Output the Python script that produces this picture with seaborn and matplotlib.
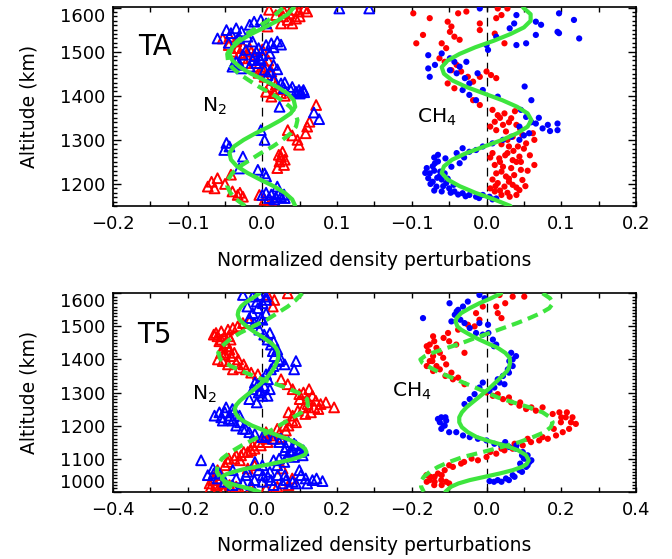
import numpy as np
import matplotlib
matplotlib.use("Agg")
import matplotlib.pyplot as plt
from matplotlib.ticker import MultipleLocator
import seaborn as sns

# ---------------- data (perturbation, altitude km) ----------------
# TA flyby, N2 (triangles)
ta_n2_blue = [(0.103,1598),(0.143,1598),
    (-0.060,1530),(-0.048,1549),(-0.042,1542),(-0.035,1553),(-0.028,1546),(-0.017,1561),(-0.011,1568),
    (-0.002,1572),(0.005,1564),(-0.020,1534),(-0.031,1530),(-0.013,1523),(0.005,1515),(0.012,1519),
    (0.020,1523),(-0.022,1504),(-0.008,1500),(-0.004,1485),(-0.013,1481),(-0.026,1493),(-0.035,1477),
    (-0.040,1466),(-0.028,1462),(-0.017,1466),(-0.008,1474),(-0.002,1481),(0.003,1459),(0.007,1447),
    (0.016,1436),(0.025,1428),(0.029,1417),(0.038,1413),(0.045,1409),(0.052,1408),(0.049,1413),
    (0.056,1408),(0.000,1492),(0.010,1496),(-0.005,1508),(0.015,1470),(0.020,1460),(-0.045,1520),
    (0.030,1430),(0.040,1420),(0.050,1405),(0.055,1413),(0.010,1455),(-0.010,1490),(0.015,1510),
    (0.025,1516),(-0.030,1470),(-0.038,1472),
    (0.023,1375),(0.069,1362),(0.076,1347),
    (-0.002,1322),(0.003,1300),(-0.048,1293),(-0.044,1285),(-0.051,1277),(-0.026,1262),(-0.031,1235),
    (-0.006,1232),(0.003,1224),(0.005,1217),(0.020,1194),(0.005,1180),(0.012,1176),(0.018,1170),
    (0.025,1172),(0.029,1176),(0.009,1168),(0.016,1165),(0.022,1178),(0.030,1168),(0.000,1175)]
ta_n2_red = [(0.009,1595),(0.018,1583),(0.029,1591),(0.036,1587),(0.043,1595),(0.049,1591),(0.056,1598),
    (0.060,1591),(0.034,1572),(0.025,1564),(0.040,1564),(0.007,1557),(0.028,1580),(0.050,1580),(0.045,1575),
    (-0.053,1530),(-0.044,1534),(-0.035,1523),(-0.026,1511),(-0.033,1508),(-0.017,1508),(-0.040,1500),
    (-0.011,1493),(-0.026,1485),(-0.022,1474),(-0.006,1466),(0.000,1459),(0.005,1466),(0.012,1455),
    (0.003,1443),(0.014,1436),(0.018,1425),(0.009,1421),(0.005,1409),(0.016,1406),(0.012,1398),(0.025,1406),
    (-0.015,1500),(0.000,1505),(0.008,1480),(-0.005,1452),(0.020,1415),(0.030,1400),(-0.030,1497),(-0.045,1515),
    (0.072,1379),(0.063,1341),(0.058,1315),(0.047,1300),(0.049,1289),(0.034,1322),(0.027,1273),
    (0.025,1262),(0.023,1251),(0.029,1243),(0.020,1236),(0.030,1255),(0.022,1266),(0.060,1330),(0.040,1310),
    (-0.068,1205),(-0.060,1213),(-0.073,1194),(-0.064,1190),(-0.042,1221),(-0.040,1183),(-0.033,1175),
    (-0.026,1171),(-0.004,1175),(0.003,1164),(0.012,1160),(-0.050,1200),(-0.030,1180)]
# TA flyby, CH4 (dots)
ta_ch4_blue = [(-0.009,1598),(0.040,1583),(0.037,1564),(0.031,1553),(0.066,1568),(0.073,1561),(0.097,1587),
    (0.117,1572),(0.124,1530),(0.095,1545),(0.097,1542),(0.066,1538),(0.053,1519),(0.040,1515),(0.013,1534),
    (0.000,1515),(0.002,1504),
    (-0.078,1492),(-0.069,1470),(-0.078,1462),(-0.076,1443),(-0.060,1496),(-0.049,1485),(-0.043,1477),
    (-0.036,1466),(-0.027,1477),(-0.049,1458),(-0.040,1451),(-0.029,1440),(-0.023,1428),(-0.012,1451),
    (-0.032,1413),(-0.023,1402),(-0.014,1390),(-0.005,1413),(0.015,1398),
    (0.051,1421),(0.060,1390),(0.046,1368),(0.053,1352),(0.066,1337),(0.075,1326),(0.082,1334),(0.095,1337),
    (0.095,1322),(0.044,1330),(0.057,1315),(0.044,1300),(0.033,1307),(0.022,1300),(0.008,1292),(-0.005,1285),
    (-0.014,1277),(-0.023,1273),(-0.032,1281),(-0.040,1270),(-0.065,1266),
    (0.070,1350),(0.060,1340),(0.085,1320),(0.050,1310),
    (-0.080,1236),(-0.076,1224),(-0.069,1247),(-0.063,1217),(-0.072,1205),(-0.067,1194),(-0.060,1183),
    (-0.054,1202),(-0.056,1224),(-0.047,1239),(-0.036,1247),(-0.043,1183),(-0.032,1179),(-0.023,1175),
    (-0.014,1171),(-0.005,1175),(0.004,1171),(0.013,1167),(-0.078,1213),(-0.065,1251),(-0.070,1230),
    (-0.060,1210),(-0.050,1190),(-0.075,1200),
    (-0.072,1240),(-0.062,1228),(-0.058,1195),(-0.070,1185),(-0.048,1180),(-0.038,1176),(-0.028,1172),
    (-0.082,1225),(-0.066,1214),(-0.052,1212),(-0.044,1198),(-0.010,1168),(0.008,1165),(-0.055,1258),
    (-0.070,1260),(-0.030,1260)]
ta_ch4_red = [(-0.098,1587),(-0.076,1576),(-0.052,1568),(-0.047,1557),(-0.049,1545),(-0.038,1587),(-0.027,1591),
    (-0.009,1564),(0.015,1598),(0.020,1583),(0.028,1598),(0.013,1576),(-0.009,1549),(0.011,1541),(-0.043,1534),
    (-0.036,1527),(-0.085,1538),(-0.094,1519),(-0.060,1519),(-0.054,1508),(0.024,1519),
    (-0.063,1485),(-0.056,1477),(-0.047,1458),(-0.040,1470),(-0.034,1455),(-0.025,1443),(-0.018,1432),
    (-0.009,1443),(0.000,1455),(0.006,1447),(-0.052,1428),(-0.043,1417),(-0.018,1390),(-0.009,1379),(0.013,1440),
    (0.008,1368),(0.015,1356),(0.024,1360),(0.033,1349),(0.011,1341),(0.022,1334),(0.013,1322),(0.026,1319),
    (0.040,1334),(0.035,1307),(0.048,1311),(0.062,1315),(0.064,1300),(0.053,1292),(0.042,1285),
    (0.008,1270),(0.017,1258),(0.028,1270),(0.035,1254),(0.044,1262),(0.011,1243),(0.022,1239),(0.033,1236),
    (0.046,1232),(0.064,1243),(0.013,1224),(0.026,1217),(0.037,1220),(0.048,1209),(0.015,1202),(0.024,1194),
    (0.035,1198),(0.044,1186),(0.011,1183),(0.020,1175),(0.031,1171),(0.040,1175),(0.005,1190),(0.030,1205),
    (0.018,1250),(0.050,1280),(0.030,1285),
    (0.005,1260),(0.025,1265),(0.040,1250),(0.055,1230),(0.020,1228),(0.008,1210),(0.030,1212),(0.052,1195),
    (0.018,1185),(0.040,1192),(0.028,1180),(0.012,1195),(0.046,1250),(0.036,1275),(0.058,1265),(0.020,1290),
    (0.030,1340),(0.045,1325),(0.018,1350),(0.005,1330),(0.038,1365),(0.028,1300)]

# T5 flyby, N2 (triangles)
t5_n2_blue = [(-0.052,1595),(-0.026,1590),(-0.008,1595),(0.010,1590),(0.001,1570),(-0.012,1555),(-0.026,1540),
    (-0.035,1525),(-0.021,1510),(-0.004,1525),(0.010,1540),(-0.008,1490),(0.005,1475),(0.014,1460),(0.023,1445),
    (0.028,1425),(0.032,1410),(0.045,1395),(0.090,1395),(0.085,1370),(0.023,1370),(0.010,1355),(0.001,1340),
    (-0.012,1325),(-0.026,1310),(-0.004,1305),(0.014,1290),(-0.035,1280),
    (0.040,1430),(0.050,1400),(0.030,1380),(0.060,1385),(0.015,1340),(-0.010,1300),(0.020,1310),(-0.020,1330),
    (0.005,1320),(0.000,1290),(-0.015,1270),(0.000,1520),(-0.015,1575),(0.010,1580),(-0.040,1560),(0.020,1480),
    (0.030,1455),
    (-0.128,1230),(-0.115,1240),(-0.097,1255),(-0.088,1230),(-0.079,1215),(-0.106,1215),(-0.070,1200),
    (-0.052,1190),(-0.035,1180),(-0.061,1230),(-0.075,1245),(-0.100,1240),(-0.090,1220),(-0.110,1225),
    (-0.080,1250),(-0.060,1210),(-0.045,1190),
    (0.010,1170),(0.028,1160),(0.045,1150),(0.063,1135),(0.081,1125),(0.099,1120),(0.068,1110),(0.045,1100),
    (0.085,1145),(0.108,1110),(0.059,1090),(0.050,1160),(0.070,1150),(0.090,1140),(0.100,1130),(0.110,1125),
    (0.075,1120),(0.060,1125),(0.085,1105),(0.030,1095),(0.040,1080),(0.000,1165),(-0.020,1175),
    (-0.164,1095),(-0.132,1070),(-0.146,1050),(-0.115,1055),(-0.079,1065),(-0.070,1040),(-0.044,1050),
    (-0.021,1035),(0.001,1050),(0.023,1035),(0.041,1050),(0.063,1035),(0.099,1065),(0.103,1050),(0.116,1040),
    (0.134,1035),(0.161,1032),(0.081,1030),(0.054,1025),(-0.052,1025),(0.020,1060),(-0.010,1065),
    (-0.100,1030),(-0.120,1040),(-0.080,1020),(-0.030,1020),(0.000,1030),(0.030,1020),(0.060,1050),
    (0.090,1025),(0.120,1025),(0.145,1040),(0.015,1045),(-0.040,1060),(-0.130,1055),(0.000,1080),(-0.020,1090)]
t5_n2_red = [(0.032,1580),(0.068,1600),(0.014,1595),(0.028,1560),
    (-0.035,1515),(-0.052,1510),(-0.066,1500),(-0.079,1495),(-0.092,1490),(-0.110,1485),(-0.124,1480),
    (-0.101,1470),(-0.115,1455),(-0.097,1450),(-0.106,1435),(-0.088,1430),(-0.101,1415),(-0.084,1410),
    (-0.119,1400),(-0.070,1390),(-0.092,1385),(-0.061,1375),(-0.044,1370),(-0.030,1360),(-0.012,1355),
    (-0.106,1395),(-0.079,1370),(-0.090,1470),(-0.110,1460),(-0.085,1460),(-0.095,1440),(-0.075,1420),
    (-0.110,1420),(-0.065,1400),(-0.050,1385),(-0.120,1470),(-0.130,1475),
    (0.050,1340),(0.068,1325),(0.081,1310),(0.099,1295),(0.125,1310),(0.134,1290),(0.143,1275),(0.121,1265),
    (0.139,1255),(0.156,1265),(0.170,1270),(0.192,1255),(0.130,1240),(0.081,1230),(0.090,1210),(0.059,1200),
    (0.110,1300),(0.120,1280),(0.150,1250),(0.110,1255),(0.100,1280),(0.115,1235),(0.095,1245),(0.070,1240),
    (0.080,1215),(0.070,1200),(0.040,1190),(0.050,1165),(0.025,1170),(0.010,1160),(-0.010,1150),
    (0.063,1185),(0.045,1175),(0.032,1160),(0.014,1150),(-0.004,1140),(-0.021,1130),(-0.039,1120),
    (-0.057,1110),(-0.075,1100),(-0.092,1090),(0.010,1180),(-0.026,1140),
    (-0.030,1125),(-0.050,1120),(-0.070,1110),(-0.060,1095),(-0.090,1100),(-0.100,1080),(-0.120,1065),
    (-0.110,1050),
    (-0.132,1035),(-0.141,1025),(-0.124,1020),(-0.106,1025),(-0.088,1020),(-0.070,1015),(0.010,1010),
    (0.054,1070),(-0.021,1080),(-0.039,1070),(-0.140,1010),(-0.120,1005),(-0.100,1010),(-0.060,1005),
    (-0.030,1010),(0.040,1015),(0.070,1020),(0.080,1040)]
# T5 flyby, CH4 (dots)
t5_ch4_blue = [(-0.019,1595),(-0.005,1585),(-0.099,1570),(-0.076,1550),(-0.085,1535),(-0.094,1515),(-0.063,1560),
    (-0.170,1525),(-0.059,1510),(-0.045,1495),(-0.028,1480),(-0.010,1475),(0.017,1460),(0.026,1445),
    (-0.019,1510),(0.004,1505),(-0.070,1520),(-0.080,1545),(-0.050,1575),(0.005,1480),(0.020,1440),
    (0.066,1420),(0.079,1410),(0.070,1380),(0.057,1370),(0.061,1395),(0.044,1350),(0.030,1340),(0.048,1325),
    (0.021,1315),(0.008,1305),(-0.010,1330),(-0.019,1315),(-0.032,1295),(-0.045,1280),(-0.059,1265),
    (0.070,1400),(0.060,1360),(0.035,1330),
    (-0.121,1225),(-0.125,1210),(-0.112,1200),(-0.121,1190),(-0.108,1215),(-0.081,1180),(-0.063,1170),
    (-0.045,1165),(-0.023,1160),(0.000,1155),(0.021,1145),(0.039,1140),(0.061,1135),(0.079,1130),(0.097,1120),
    (0.110,1110),(0.115,1090),(0.106,1075),(0.088,1065),(0.070,1050),(0.052,1040),(0.030,1035),(0.008,1032),
    (0.100,1100),(0.090,1085),(-0.115,1200),(-0.130,1220),(-0.110,1225),(-0.100,1180),(0.095,1110),
    (0.105,1100),(0.120,1095),(0.110,1080),(0.095,1060),(0.075,1045),(0.060,1035),(0.040,1030),(0.020,1030),
    (0.050,1150),(0.080,1140)]
t5_ch4_red = [(0.035,1595),(0.070,1590),(0.101,1590),(0.026,1560),(0.030,1540),(-0.028,1540),(-0.019,1520),
    (-0.032,1500),(-0.076,1490),(-0.103,1480),(-0.143,1470),(-0.152,1445),(-0.134,1435),(-0.156,1425),
    (-0.143,1410),(-0.152,1395),(-0.134,1380),(-0.143,1365),(-0.116,1405),(-0.108,1385),(-0.094,1360),
    (-0.076,1345),(-0.059,1325),(-0.081,1445),(-0.059,1420),(0.050,1570),(0.040,1525),(-0.010,1560),
    (-0.050,1505),(-0.140,1455),(-0.160,1440),(-0.125,1420),(-0.145,1395),(-0.160,1380),(-0.125,1370),
    (-0.110,1350),(-0.090,1340),(-0.100,1455),(-0.115,1465),
    (0.017,1290),(0.044,1280),(0.066,1270),(0.088,1260),(0.106,1250),(0.132,1245),(0.177,1235),(0.195,1240),
    (0.212,1225),(0.226,1210),(0.239,1205),(0.221,1190),(0.204,1180),(0.199,1210),(0.186,1170),(0.164,1160),
    (0.141,1155),(0.119,1150),(0.097,1140),(0.070,1130),(0.048,1125),(0.026,1115),(0.000,1105),(-0.023,1095),
    (0.000,1300),(0.030,1295),(0.060,1285),(0.090,1270),(0.120,1255),(0.150,1255),(0.200,1225),(0.215,1240),
    (0.230,1225),(0.180,1190),(0.150,1165),(0.110,1160),(0.075,1145),(0.040,1130),(0.010,1120),
    (-0.040,1100),(-0.060,1090),(-0.100,1080),
    (-0.068,1085),(-0.090,1075),(-0.112,1065),(-0.130,1055),(-0.139,1045),(-0.152,1035),(-0.139,1030),
    (-0.121,1035),(-0.108,1030),(-0.161,1050),(-0.120,1050),(-0.150,1045),(-0.140,1020),(-0.120,1020),
    (-0.100,1025),(-0.160,1030)]

# fitted wave curves
ta_curve_alt = [1150,1165,1180,1195,1210,1225,1240,1255,1270,1285,1300,1315,1330,1345,1360,1375,
                1390,1405,1420,1435,1450,1465,1480,1495,1510,1525,1540,1555,1570,1585,1600]
ta_n2_fit = [0.044,0.040,0.030,0.015,-0.003,-0.020,-0.034,-0.042,-0.044,-0.038,-0.025,-0.009,0.009,0.025,
             0.038,0.044,0.042,0.034,0.020,0.003,-0.015,-0.030,-0.040,-0.044,-0.040,-0.030,-0.015,0.003,
             0.020,0.034,0.042]
ta_n2_fit2 = [-0.023,-0.035,-0.043,-0.047,-0.046,-0.040,-0.030,-0.016,-0.002,0.014,0.027,0.038,0.045,0.047,
              0.044,0.037,0.026,0.012,-0.004,-0.018,-0.031,-0.041,-0.046,-0.047,-0.042,-0.033,-0.021,-0.007,
              0.007,0.018,0.028]
ta_ch4_fit = [0.032,0.010,-0.015,-0.036,-0.052,-0.060,-0.057,-0.046,-0.027,-0.003,0.021,0.041,0.055,0.060,
              0.055,0.041,0.021,-0.003,-0.027,-0.046,-0.057,-0.060,-0.052,-0.036,-0.015,0.010,0.032,0.050,
              0.059,0.059,0.049]

t5_n2_fit_alt = [1600,1590,1580,1570,1560,1547,1535,1522,1510,1495,1480,1465,1450,1437,1425,1410,1395,1380,
                 1365,1350,1335,1320,1305,1290,1275,1262,1250,1237,1225,1212,1200,1190,1180,1170,1160,1150,
                 1140,1130,1120,1112,1105,1097,1090,1082,1075,1068,1060,1052,1045,1038,1030,1022,1015,1008,1000]
t5_n2_fit = [-0.008,-0.020,-0.035,-0.047,-0.057,-0.064,-0.066,-0.062,-0.052,-0.036,-0.017,0.004,0.023,0.035,
             0.041,0.043,0.040,0.034,0.026,0.016,0.004,-0.011,-0.027,-0.044,-0.060,-0.070,-0.074,-0.072,
             -0.064,-0.048,-0.028,-0.006,0.018,0.042,0.066,0.086,0.103,0.114,0.118,0.114,0.100,0.077,0.048,
             0.015,-0.018,-0.050,-0.077,-0.098,-0.108,-0.108,-0.098,-0.078,-0.055,-0.030,-0.008]
t5_n2_fit2_alt = [1600,1580,1560,1540,1520,1500,1480,1460,1440,1420,1400,1380,1360,1340,1320,1300,1280,1260,
                  1240,1220,1200,1180,1160,1140,1120,1100,1080,1060,1040,1020,1000]
t5_n2_fit2 = [0.107,0.090,0.068,0.040,0.012,-0.025,-0.060,-0.088,-0.108,-0.118,-0.112,-0.085,-0.045,0.000,
              0.050,0.095,0.120,0.122,0.105,0.075,0.045,0.015,-0.020,-0.055,-0.085,-0.108,-0.120,-0.122,
              -0.112,-0.095,-0.070]
t5_ch4_fit_alt = [1600,1585,1570,1555,1540,1525,1515,1500,1490,1475,1460,1447,1435,1420,1405,1390,1375,1365,
                  1350,1330,1310,1290,1270,1255,1240,1225,1210,1195,1180,1165,1152,1140,1125,1110,1095,1083,
                  1075,1065,1055,1045,1035,1025,1015,1000]
t5_ch4_fit = [0.039,0.012,-0.019,-0.045,-0.068,-0.080,-0.083,-0.078,-0.068,-0.045,-0.019,0.006,0.030,0.050,
              0.062,0.063,0.060,0.055,0.042,0.024,0.005,-0.016,-0.038,-0.054,-0.066,-0.073,-0.073,-0.066,
              -0.050,-0.026,0.010,0.048,0.085,0.106,0.113,0.107,0.095,0.070,0.035,-0.005,-0.045,-0.075,
              -0.095,-0.110]
t5_ch4_fit2_alt = [1600,1585,1570,1555,1540,1525,1510,1495,1480,1465,1450,1435,1420,1410,1400,1390,1375,1360,
                   1345,1330,1315,1300,1285,1270,1255,1240,1225,1210,1195,1180,1165,1150,1135,1120,1105,1090,
                   1075,1060,1045,1030,1015,1000]
t5_ch4_fit2 = [0.150,0.170,0.178,0.168,0.145,0.115,0.082,0.045,0.008,-0.030,-0.065,-0.105,-0.145,-0.165,
               -0.177,-0.172,-0.150,-0.125,-0.094,-0.062,-0.030,0.000,0.030,0.072,0.115,0.150,0.170,0.177,
               0.172,0.155,0.124,0.088,0.040,-0.010,-0.063,-0.100,-0.130,-0.152,-0.168,-0.176,-0.175,-0.168]

ta_tick_labels = ["\u22120.2", "\u22120.1", "0.0", "0.1", "\u22120.1", "0.0", "0.1", "0.2"]
t5_tick_labels = ["\u22120.4", "\u22120.2", "0.0", "0.2", "\u22120.2", "0.0", "0.2", "0.4"]

# ---------------- style ----------------
sns.set_style("ticks")
plt.rcParams["font.family"] = ["DejaVu Sans"]
for key in ("text.color", "axes.labelcolor", "xtick.color", "ytick.color", "axes.edgecolor"):
    plt.rcParams[key] = "black"
plt.rcParams["axes.linewidth"] = 1.2

BLUE = "#0000ff"
RED = "#ff0000"
GREEN = "#3ee53e"

fig = plt.figure(figsize=(6.72, 5.59), dpi=100)
ax1 = fig.add_axes([0.168, 0.6315, 0.7784, 0.3565])
ax2 = fig.add_axes([0.168, 0.1204, 0.7784, 0.3549])


def draw_points(ax, pts, offset, color, kind):
    arr = np.array(pts, dtype=float)
    x = arr[:, 0] + offset
    y = arr[:, 1]
    if kind == "tri":
        sns.scatterplot(x=x, y=y, ax=ax, marker="^", s=50, facecolor="none",
                        edgecolor=color, linewidth=1.4, zorder=3)
    else:
        sns.scatterplot(x=x, y=y, ax=ax, marker="o", s=20, color=color,
                        edgecolor="none", linewidth=0, zorder=3)


def draw_curve(ax, xs, alts, offset, dashed=False):
    x = np.array(xs) + offset
    kw = dict(color=GREEN, lw=3.0, zorder=4)
    if dashed:
        kw["linestyle"] = (0, (2.6, 1.5))
    sns.lineplot(x=x, y=np.array(alts), ax=ax, sort=False, estimator=None, **kw)


def style_axis(ax, xlim, ylim, xstep, xlabels, ytks, ch4_offset):
    ax.axvline(0, color="black", lw=0.9, ls=(0, (7, 5)), zorder=1)
    ax.axvline(ch4_offset, color="black", lw=0.9, ls=(0, (7, 5)), zorder=1)
    ax.set_xlim(*xlim)
    ax.set_ylim(*ylim)
    xt = [xlim[0] + i * xstep for i in range(len(xlabels))]
    ax.set_xticks(xt)
    ax.set_xticklabels(xlabels)
    ax.xaxis.set_minor_locator(MultipleLocator(xstep / 2))
    ax.set_yticks(ytks)
    ax.set_yticklabels([str(v) for v in ytks])
    ax.yaxis.set_minor_locator(MultipleLocator(10))
    ax.tick_params(axis="both", which="both", direction="in", top=True, right=True,
                   width=1.0, labelsize=13, colors="black")
    ax.tick_params(axis="x", which="both", length=3.8, pad=6.5)
    ax.tick_params(axis="y", which="major", length=6.0, pad=5.5)
    ax.tick_params(axis="y", which="minor", length=3.0)
    ax.set_xlabel("Normalized density perturbations", fontsize=13.5, color="black")
    ax.set_ylabel("Altitude (km)", fontsize=13.5, color="black")
    ax.xaxis.set_label_coords(0.5, -0.225)
    ax.yaxis.set_label_coords(-0.143, 0.5)
    for s in ax.spines.values():
        s.set_visible(True)
        s.set_linewidth(1.2)
        s.set_color("black")


# ---------------- TA panel ----------------
off1 = 0.3
draw_points(ax1, ta_n2_red, 0.0, RED, "tri")
draw_points(ax1, ta_n2_blue, 0.0, BLUE, "tri")
draw_points(ax1, ta_ch4_red, off1, RED, "dot")
draw_points(ax1, ta_ch4_blue, off1, BLUE, "dot")
draw_curve(ax1, ta_n2_fit2, ta_curve_alt, 0.0, dashed=True)
draw_curve(ax1, ta_n2_fit, ta_curve_alt, 0.0)
draw_curve(ax1, ta_ch4_fit, ta_curve_alt, off1)
style_axis(ax1, (-0.2, 0.5), (1150, 1602), 0.1, ta_tick_labels, [1200, 1300, 1400, 1500, 1600], off1)
ax1.text(0.048, 0.80, "TA", transform=ax1.transAxes, fontsize=20, va="center", ha="left")
ax1.text(0.170, 0.472, "N$_2$", transform=ax1.transAxes, fontsize=14.5, va="baseline", ha="left")
ax1.text(0.582, 0.416, "CH$_4$", transform=ax1.transAxes, fontsize=14.5, va="baseline", ha="left")

# ---------------- T5 panel ----------------
off2 = 0.6
draw_points(ax2, t5_n2_red, 0.0, RED, "tri")
draw_points(ax2, t5_n2_blue, 0.0, BLUE, "tri")
draw_points(ax2, t5_ch4_red, off2, RED, "dot")
draw_points(ax2, t5_ch4_blue, off2, BLUE, "dot")
draw_curve(ax2, t5_n2_fit2, t5_n2_fit2_alt, 0.0, dashed=True)
draw_curve(ax2, t5_n2_fit, t5_n2_fit_alt, 0.0)
draw_curve(ax2, t5_ch4_fit2, t5_ch4_fit2_alt, off2, dashed=True)
draw_curve(ax2, t5_ch4_fit, t5_ch4_fit_alt, off2)
style_axis(ax2, (-0.4, 1.0), (1000, 1600), 0.2, t5_tick_labels,
           [1000, 1100, 1200, 1300, 1400, 1500, 1600], off2)
ax2.text(0.046, 0.75, "T5", transform=ax2.transAxes, fontsize=20, va="baseline", ha="left")
ax2.text(0.151, 0.462, "N$_2$", transform=ax2.transAxes, fontsize=14.5, va="baseline", ha="left")
ax2.text(0.533, 0.477, "CH$_4$", transform=ax2.transAxes, fontsize=14.5, va="baseline", ha="left")

# shift end-of-axis altitude labels inward, as in the original
for ax in (ax1, ax2):
    lo, hi = ax.get_ylim()
    for t in ax.yaxis.get_major_ticks():
        loc = t.get_loc()
        if abs(loc - 1600) < 1:
            t.label1.set_verticalalignment("top")
        if abs(loc - lo) < 1:
            t.label1.set_verticalalignment("bottom")

fig.savefig("out.png", dpi=100)
